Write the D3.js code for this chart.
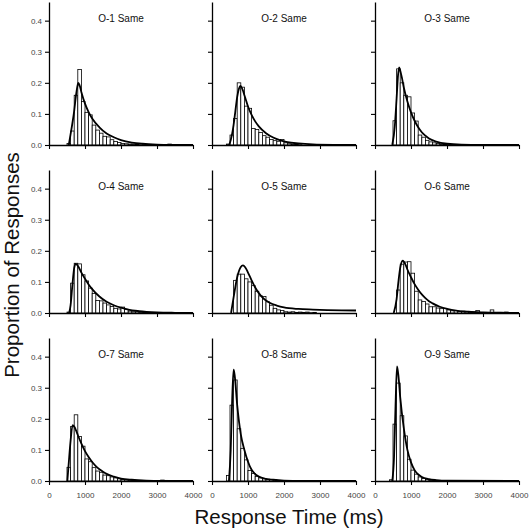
<!DOCTYPE html>
<html>
<head>
<meta charset="utf-8">
<script src="https://cdn.jsdelivr.net/npm/d3@7"></script>
<style>
  html, body { margin: 0; padding: 0; background: #fff; }
  svg { display: block; font-family: "Liberation Sans", Arial, Helvetica, sans-serif; }
</style>
</head>
<body>
<svg id="chart" width="529" height="530"></svg>
<script>
// ---------- data ----------
const panelTitles = ["O-1 Same", "O-2 Same", "O-3 Same", "O-4 Same", "O-5 Same", "O-6 Same", "O-7 Same", "O-8 Same", "O-9 Same"];
const binWidth = 100;
const binStarts = [500, 400, 500, 500, 600, 600, 500, 400, 400];

const o1Bars = [0.005, 0.045, 0.16, 0.243, 0.14, 0.105, 0.097, 0.064, 0.048, 0.038, 0.028, 0.026, 0.017, 0.011, 0.008, 0.005, 0.004, 0.003, 0.003, 0.002, 0.001, 0.001, 0, 0, 0, 0, 0, 0, 0.003];
const o2Bars = [0.003, 0.032, 0.085, 0.2, 0.186, 0.125, 0.118, 0.053, 0.05, 0.04, 0.03, 0.025, 0.018, 0.014, 0.012, 0.018, 0.007, 0.004, 0.003, 0.002, 0.001];
const o3Bars = [0.078, 0.245, 0.2, 0.16, 0.155, 0.103, 0.077, 0.032, 0.025, 0.015, 0.01, 0.007, 0.005, 0.003, 0.002, 0.001];
const o4Bars = [0.003, 0.096, 0.16, 0.158, 0.123, 0.103, 0.08, 0.063, 0.04, 0.039, 0.032, 0.026, 0.021, 0.015, 0.013, 0.019, 0.012, 0.006, 0.004, 0.004, 0.003, 0.002, 0.002, 0.001, 0.001, 0.001];
const o5Bars = [0.105, 0.125, 0.125, 0.11, 0.1, 0.088, 0.07, 0.055, 0.053, 0.036, 0.025, 0.015, 0.01, 0.008, 0.004, 0.003, 0.004, 0.002, 0.003, 0.002, 0.003, 0.001, 0.002];
const o6Bars = [0.074, 0.157, 0.164, 0.165, 0.128, 0.07, 0.042, 0.037, 0.029, 0.02, 0.02, 0.016, 0.014, 0.015, 0.01, 0.007, 0.008, 0.005, 0.006, 0.004, 0.004, 0.003, 0.008, 0.002, 0.002, 0.001, 0.01, 0.001, 0.002, 0.001, 0.003];
const o7Bars = [0.044, 0.175, 0.213, 0.143, 0.112, 0.071, 0.062, 0.043, 0.032, 0.028, 0.019, 0.017, 0.013, 0.01, 0.007, 0.005, 0.004, 0.003, 0.002, 0.002, 0.002, 0.001, 0, 0, 0, 0, 0.003, 0.002];
const o8Bars = [0.018, 0.244, 0.325, 0.168, 0.105, 0.068, 0.034, 0.024, 0.015, 0.01, 0.007, 0.006, 0.005, 0.004, 0.002];
const o9Bars = [0.004, 0.183, 0.315, 0.21, 0.145, 0.07, 0.035, 0.022, 0.013, 0.008, 0.005, 0.003, 0.002, 0.002, 0.001];

const o1CurveX = [550, 600, 650, 700, 750, 800, 815, 850, 900, 1000, 1100, 1200, 1400, 1600, 1800, 2000, 2300, 2600, 3000, 3500, 4000];
const o1CurveY = [0, 0.035, 0.07, 0.11, 0.16, 0.195, 0.2, 0.192, 0.17, 0.133, 0.106, 0.085, 0.057, 0.037, 0.025, 0.016, 0.008, 0.004, 0.0015, 0.0005, 0.0002];
const o2CurveX = [480, 550, 600, 650, 700, 750, 790, 850, 900, 1000, 1100, 1200, 1300, 1500, 1700, 1900, 2100, 2400, 2800, 3400, 4000];
const o2CurveY = [0, 0.03, 0.065, 0.11, 0.155, 0.182, 0.19, 0.178, 0.16, 0.124, 0.097, 0.076, 0.06, 0.038, 0.024, 0.015, 0.009, 0.005, 0.002, 0.0005, 0.0001];
const o3CurveX = [480, 550, 600, 640, 670, 700, 750, 800, 900, 1000, 1100, 1200, 1300, 1400, 1500, 1700, 2000, 2400, 3000, 4000];
const o3CurveY = [0, 0.06, 0.15, 0.225, 0.25, 0.24, 0.215, 0.185, 0.14, 0.105, 0.078, 0.057, 0.041, 0.03, 0.021, 0.011, 0.004, 0.001, 0.0002, 0];
const o4CurveX = [560, 600, 650, 700, 740, 800, 900, 1000, 1100, 1200, 1400, 1600, 1800, 2000, 2200, 2500, 3000, 3500, 4000];
const o4CurveY = [0, 0.025, 0.09, 0.145, 0.158, 0.152, 0.13, 0.11, 0.092, 0.077, 0.053, 0.036, 0.025, 0.017, 0.011, 0.006, 0.002, 0.0007, 0.0002];
const o5CurveX = [530, 600, 700, 800, 860, 950, 1000, 1100, 1200, 1300, 1400, 1500, 1600, 1800, 2000, 2400, 2800, 3200, 3600, 4000];
const o5CurveY = [0, 0.05, 0.115, 0.148, 0.153, 0.142, 0.13, 0.105, 0.082, 0.064, 0.05, 0.04, 0.033, 0.024, 0.018, 0.013, 0.011, 0.0095, 0.0085, 0.008];
const o6CurveX = [520, 600, 650, 700, 770, 850, 900, 1000, 1100, 1200, 1300, 1400, 1500, 1600, 1800, 2000, 2300, 2600, 3000, 3500, 4000];
const o6CurveY = [0, 0.045, 0.1, 0.145, 0.168, 0.155, 0.14, 0.115, 0.093, 0.075, 0.06, 0.048, 0.038, 0.031, 0.02, 0.013, 0.007, 0.004, 0.002, 0.0008, 0.0003];
const o7CurveX = [510, 550, 600, 657, 700, 750, 800, 900, 1000, 1100, 1200, 1300, 1400, 1500, 1600, 1800, 2000, 2300, 2700, 3200, 4000];
const o7CurveY = [0, 0.06, 0.13, 0.18, 0.175, 0.163, 0.148, 0.12, 0.096, 0.077, 0.061, 0.048, 0.038, 0.03, 0.023, 0.014, 0.008, 0.004, 0.0015, 0.0005, 0.0001];
const o8CurveX = [470, 520, 560, 600, 630, 700, 800, 900, 1000, 1100, 1200, 1300, 1500, 1700, 2000, 2500, 4000];
const o8CurveY = [0, 0.1, 0.26, 0.358, 0.34, 0.244, 0.15, 0.1, 0.062, 0.036, 0.022, 0.014, 0.007, 0.004, 0.0015, 0.0003, 0];
const o9CurveX = [480, 530, 570, 611, 650, 700, 800, 900, 1000, 1100, 1200, 1300, 1500, 1700, 2000, 4000];
const o9CurveY = [0, 0.08, 0.24, 0.369, 0.34, 0.27, 0.17, 0.1, 0.06, 0.035, 0.021, 0.013, 0.006, 0.003, 0.001, 0];

const xTicks = [0, 1000, 2000, 3000, 4000];
const xTickLabels = ["0", "1000", "2000", "3000", "4000"];
const yTicks = [0, 0.1, 0.2, 0.3, 0.4];
const yTickLabels = ["0.0", "0.1", "0.2", "0.3", "0.4"];
const xTitle = "Response Time (ms)";
const yTitle = "Proportion of Responses";

const allBars = [o1Bars, o2Bars, o3Bars, o4Bars, o5Bars, o6Bars, o7Bars, o8Bars, o9Bars];
const allCurveX = [o1CurveX, o2CurveX, o3CurveX, o4CurveX, o5CurveX, o6CurveX, o7CurveX, o8CurveX, o9CurveX];
const allCurveY = [o1CurveY, o2CurveY, o3CurveY, o4CurveY, o5CurveY, o6CurveY, o7CurveY, o8CurveY, o9CurveY];

// ---------- layout ----------
const svg = d3.select("#chart");
const colX = [49, 212, 375];
const rowBase = [145, 313, 481];
const pw = 144, ph = 143;

const x = d3.scaleLinear().domain([0, 4000]).range([0, pw]);
const y = d3.scaleLinear().domain([0, 0.46]).range([ph, 0]);

panelTitles.forEach((title, i) => {
  const col = i % 3, row = Math.floor(i / 3);
  const g = svg.append("g").attr("transform", `translate(${colX[col]},${rowBase[row] - ph})`);

  const bars = allBars[i].map((v, k) => ({ x0: binStarts[i] + k * binWidth, v }))
    .filter(d => d.v > 0);
  g.selectAll("rect.bar").data(bars).enter().append("rect")
    .attr("class", "bar")
    .attr("x", d => x(d.x0))
    .attr("width", d => x(d.x0 + binWidth) - x(d.x0))
    .attr("y", d => y(d.v))
    .attr("height", d => y(0) - y(d.v))
    .attr("fill", "#fff")
    .attr("stroke", "#000")
    .attr("stroke-width", 0.8);

  const pts = allCurveX[i].map((cx, k) => [cx, allCurveY[i][k]]);
  const line = d3.line().x(d => x(d[0])).y(d => y(d[1])).curve(d3.curveMonotoneX);
  g.append("path").attr("d", line(pts))
    .attr("fill", "none").attr("stroke", "#000").attr("stroke-width", 1.8)
    .attr("stroke-linejoin", "round");

  // axes
  const xAxis = d3.axisBottom(x).tickValues(xTicks).tickSize(4).tickSizeOuter(0).tickPadding(7)
    .tickFormat((d, k) => row === 2 ? xTickLabels[k] : "");
  const gx = g.append("g").attr("transform", `translate(0,${ph})`).call(xAxis);
  const yAxis = d3.axisLeft(y).tickValues(yTicks).tickSize(4).tickSizeOuter(0).tickPadding(3)
    .tickFormat((d, k) => col === 0 ? yTickLabels[k] : "");
  const gy = g.append("g").call(yAxis);
  [gx, gy].forEach(ax => {
    ax.select(".domain").attr("stroke", "#000").attr("stroke-width", 1.3);
    ax.selectAll(".tick line").attr("stroke", "#000").attr("stroke-width", 1.1);
    ax.selectAll(".tick text").attr("fill", "#444").attr("font-size", 8)
      .attr("font-family", "'Liberation Sans', Arial, sans-serif");
  });

  g.append("text")
    .attr("x", x(2000)).attr("y", ph - 123)
    .attr("text-anchor", "middle")
    .attr("font-size", 10)
    .attr("fill", "#111")
    .text(title);
});

svg.append("text")
  .attr("x", 289).attr("y", 524)
  .attr("text-anchor", "middle")
  .attr("font-size", 20.5)
  .attr("fill", "#111")
  .text(xTitle);

svg.append("text")
  .attr("transform", "translate(19,265) rotate(-90)")
  .attr("text-anchor", "middle")
  .attr("font-size", 20.5)
  .attr("fill", "#111")
  .text(yTitle);
</script>
</body>
</html>
